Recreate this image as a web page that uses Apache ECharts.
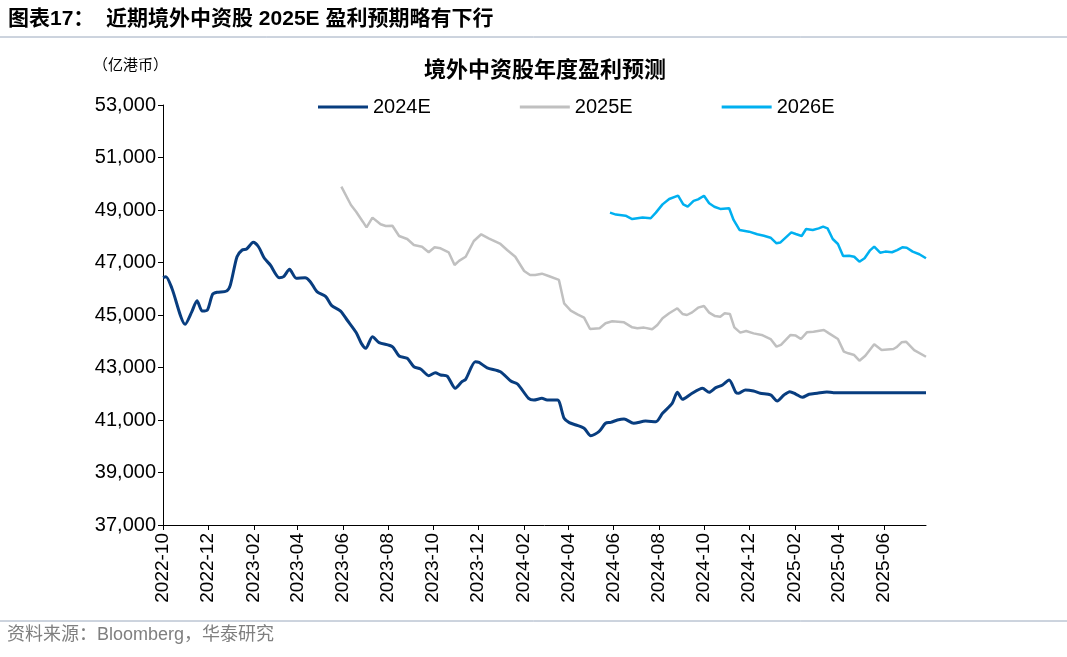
<!DOCTYPE html>
<html><head><meta charset="utf-8">
<script src="https://cdn.jsdelivr.net/npm/echarts@6/dist/echarts.min.js"></script>
<style>html,body{margin:0;padding:0;background:#fff}#c{width:1067px;height:657px}</style>
</head><body><div id="c"></div>
<script>
const tickLabels = ['2022-10','2022-12','2023-02','2023-04','2023-06','2023-08','2023-10','2023-12','2024-02','2024-04','2024-06','2024-08','2024-10','2024-12','2025-02','2025-04','2025-06'];
const seriesNames = ['2024E','2025E','2026E'];

const dates2024E = ['2022-10-01','2022-10-05','2022-10-13','2022-10-31','2022-11-09','2022-11-16','2022-11-23','2022-11-30','2022-12-07','2022-12-13','2022-12-26','2022-12-31','2023-01-09','2023-01-16','2023-01-22','2023-01-31','2023-02-07','2023-02-15','2023-02-23','2023-03-07','2023-03-13','2023-03-21','2023-03-30','2023-04-11','2023-04-18','2023-04-27','2023-05-09','2023-05-17','2023-05-29','2023-06-07','2023-06-19','2023-06-26','2023-07-02','2023-07-11','2023-07-20','2023-08-07','2023-08-16','2023-08-27','2023-09-05','2023-09-14','2023-09-25','2023-10-04','2023-10-11','2023-10-20','2023-10-31','2023-11-09','2023-11-14','2023-11-27','2023-12-02','2023-12-13','2023-12-31','2024-01-14','2024-01-23','2024-02-07','2024-02-14','2024-02-25','2024-03-03','2024-03-17','2024-03-26','2024-04-02','2024-04-11','2024-04-22','2024-05-01','2024-05-12','2024-05-21','2024-05-28','2024-06-06','2024-06-15','2024-06-28','2024-07-14','2024-07-28','2024-08-06','2024-08-19','2024-08-26','2024-09-02','2024-09-13','2024-09-29','2024-10-08','2024-10-17','2024-10-26','2024-11-04','2024-11-13','2024-11-17','2024-11-26','2024-12-07','2024-12-16','2024-12-30','2025-01-08','2025-01-17','2025-01-25','2025-02-02','2025-02-11','2025-02-20','2025-03-03','2025-03-16','2025-03-25','2025-05-01','2025-06-01','2025-07-28'];
const values2024E = [46420,46460,46020,44645,45130,45545,45150,45190,45790,45865,45915,46140,47220,47475,47515,47770,47600,47160,46905,46420,46460,46740,46400,46420,46270,45890,45700,45355,45150,44800,44330,43920,43730,44175,43950,43795,43440,43350,43030,42945,42690,42800,42715,42675,42210,42460,42550,43220,43195,42990,42840,42485,42370,41825,41760,41825,41760,41760,41065,40900,40810,40685,40400,40555,40875,40910,41000,41040,40875,40960,40935,41255,41635,42055,41790,41980,42210,42055,42235,42335,42525,42055,42020,42145,42105,42020,41955,41725,41955,42080,41990,41865,41980,42020,42070,42040,42040,42040,42040];

const dates2025E = ['2023-05-30','2023-06-12','2023-06-19','2023-06-28','2023-07-03','2023-07-11','2023-07-22','2023-07-29','2023-08-07','2023-08-16','2023-08-27','2023-09-05','2023-09-16','2023-09-25','2023-10-03','2023-10-11','2023-10-22','2023-10-30','2023-11-05','2023-11-14','2023-11-25','2023-12-05','2023-12-15','2023-12-31','2024-01-09','2024-01-20','2024-02-01','2024-02-09','2024-02-16','2024-02-25','2024-03-05','2024-03-19','2024-03-26','2024-04-04','2024-04-13','2024-04-22','2024-04-30','2024-05-13','2024-05-21','2024-05-30','2024-06-15','2024-06-26','2024-07-03','2024-07-12','2024-07-23','2024-07-30','2024-08-06','2024-08-15','2024-08-26','2024-09-02','2024-09-08','2024-09-15','2024-09-23','2024-10-01','2024-10-08','2024-10-16','2024-10-23','2024-10-29','2024-11-05','2024-11-11','2024-11-19','2024-11-27','2024-12-07','2024-12-18','2024-12-30','2025-01-07','2025-01-13','2025-01-26','2025-02-02','2025-02-09','2025-02-17','2025-02-26','2025-03-12','2025-03-19','2025-03-31','2025-04-08','2025-04-14','2025-04-22','2025-04-29','2025-05-07','2025-05-19','2025-05-29','2025-06-14','2025-06-18','2025-06-25','2025-07-01','2025-07-12','2025-07-28'];
const values2025E = [49888,49190,48935,48555,48340,48710,48455,48390,48400,48010,47895,47665,47600,47390,47580,47540,47390,46905,47060,47220,47820,48075,47920,47705,47475,47220,46675,46525,46525,46575,46485,46335,45445,45165,45025,44900,44465,44495,44685,44760,44720,44530,44495,44520,44455,44620,44875,45065,45255,45040,45000,45100,45280,45345,45090,44960,44935,45065,45040,44530,44330,44390,44300,44240,44085,43795,43860,44240,44215,44085,44340,44365,44430,44300,44085,43605,43540,43475,43260,43450,43885,43665,43705,43770,43960,43985,43665,43410];

const dates2026E = ['2024-05-27','2024-06-04','2024-06-17','2024-06-26','2024-07-10','2024-07-21','2024-07-28','2024-08-06','2024-08-15','2024-08-27','2024-09-03','2024-09-09','2024-09-17','2024-09-23','2024-10-01','2024-10-08','2024-10-15','2024-10-23','2024-11-04','2024-11-10','2024-11-18','2024-12-01','2024-12-12','2024-12-21','2024-12-30','2025-01-07','2025-01-12','2025-01-27','2025-02-02','2025-02-10','2025-02-16','2025-02-25','2025-03-05','2025-03-11','2025-03-17','2025-03-24','2025-03-31','2025-04-07','2025-04-15','2025-04-22','2025-04-29','2025-05-06','2025-05-13','2025-05-19','2025-05-27','2025-06-03','2025-06-12','2025-06-19','2025-06-26','2025-07-02','2025-07-10','2025-07-19','2025-07-28'];
const values2026E = [48898,48825,48785,48655,48710,48685,48900,49215,49420,49545,49215,49125,49345,49405,49545,49255,49125,49040,49065,48620,48240,48175,48075,48020,47945,47730,47760,48150,48085,48010,48275,48240,48300,48365,48300,47895,47705,47250,47260,47220,47030,47160,47450,47605,47375,47415,47390,47475,47580,47565,47415,47315,47160];

const axisMin = '2022-10-01';
const axisMax = '2025-07-28';

function ts(s) { const p = s.split('-'); return Date.UTC(+p[0], +p[1] - 1, p[2] ? +p[2] : 1); }
function zip(d, v) { return d.map((x, i) => [ts(x), v[i]]); }
const tickValues = tickLabels.map(ts);
function fmtMonth(v) { const d = new Date(v); return d.getUTCFullYear() + '-' + String(d.getUTCMonth() + 1).padStart(2, '0'); }

const FONT = '"Liberation Sans", Arial, "Noto Sans CJK SC", sans-serif';
const chart = echarts.init(document.getElementById('c'));
chart.setOption({
  animation: false,
  backgroundColor: '#ffffff',
  textStyle: { fontFamily: FONT },
  title: [
    { text: '图表17：  近期境外中资股 2025E 盈利预期略有下行', left: 8, top: 9, padding: 0,
      textStyle: { fontSize: 21, fontWeight: 'bold', color: '#000', fontFamily: FONT } },
    { text: '境外中资股年度盈利预测', left: 545, top: 58, textAlign: 'center', padding: 0,
      textStyle: { fontSize: 22, fontWeight: 'bold', color: '#000', fontFamily: '"Noto Sans CJK SC", sans-serif' } },
    { text: '（亿港币）', left: 93, top: 57, padding: 0,
      textStyle: { fontSize: 15, fontWeight: 'normal', color: '#000', fontFamily: '"Noto Sans CJK SC", sans-serif' } },
    { text: '资料来源：Bloomberg，华泰研究', left: 7, top: 626, padding: 0,
      textStyle: { fontSize: 18, fontWeight: 'normal', color: '#7f7f7f', fontFamily: FONT } }
  ],
  graphic: [
    { type: 'line', shape: { x1: 0, y1: 37, x2: 1067, y2: 37 }, style: { stroke: '#9aa8bd', lineWidth: 1 } },
    { type: 'line', shape: { x1: 0, y1: 621, x2: 1067, y2: 621 }, style: { stroke: '#9aa8bd', lineWidth: 1 } }
  ],
  legend: {
    data: seriesNames, left: 318, top: 97, padding: 0, itemWidth: 50, itemHeight: 3, itemGap: 89, icon: 'rect',
    textStyle: { fontSize: 20, color: '#000', fontFamily: FONT }
  },
  grid: { left: 163, right: 141, top: 105, bottom: 132, containLabel: false },
  xAxis: {
    type: 'value', min: ts(axisMin), max: ts(axisMax),
    axisLine: { show: true, lineStyle: { color: '#000', width: 1 } },
    axisTick: { show: true, customValues: tickValues, length: 5, lineStyle: { color: '#000' } },
    axisLabel: { customValues: tickValues, rotate: 90, formatter: fmtMonth, fontSize: 19, color: '#000', margin: 8, fontFamily: FONT },
    splitLine: { show: false }
  },
  yAxis: {
    type: 'value', min: 37000, max: 53000, interval: 2000,
    axisLine: { show: true, lineStyle: { color: '#000', width: 1 } },
    axisTick: { show: true, length: 5, lineStyle: { color: '#000' } },
    axisLabel: { formatter: v => v.toLocaleString('en-US'), fontSize: 20, color: '#000', margin: 7, fontFamily: FONT },
    splitLine: { show: false }
  },
  series: [
    { name: seriesNames[0], type: 'line', data: zip(dates2024E, values2024E), showSymbol: false, symbol: 'none',
      smooth: 0.25, lineStyle: { color: '#083d7f', width: 3 }, itemStyle: { color: '#083d7f' } },
    { name: seriesNames[1], type: 'line', data: zip(dates2025E, values2025E), showSymbol: false, symbol: 'none',
      lineStyle: { color: '#c0c0c0', width: 2.5 }, itemStyle: { color: '#c0c0c0' } },
    { name: seriesNames[2], type: 'line', data: zip(dates2026E, values2026E), showSymbol: false, symbol: 'none',
      lineStyle: { color: '#00b0f0', width: 2.5 }, itemStyle: { color: '#00b0f0' } }
  ]
});
</script></body></html>
